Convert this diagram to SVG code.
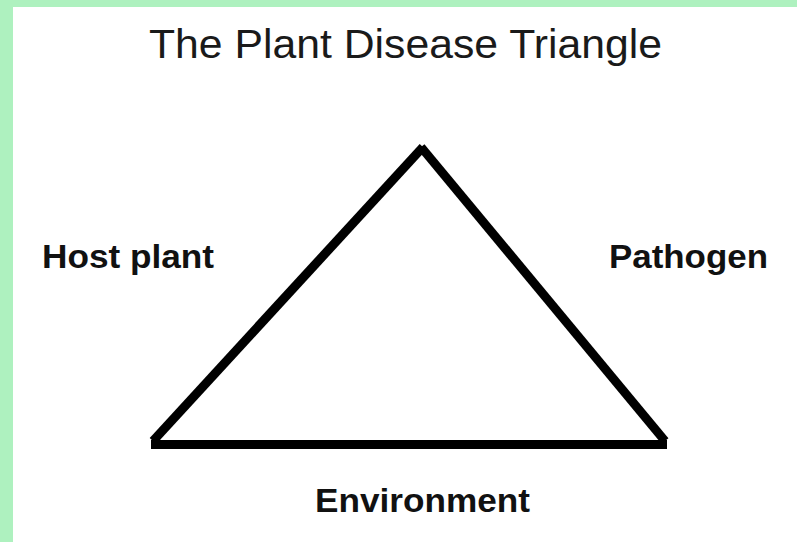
<svg xmlns="http://www.w3.org/2000/svg" width="797" height="542" viewBox="0 0 797 542">
  <style>
    .label { font-family: "Liberation Sans", Arial, sans-serif; font-weight: bold; font-size: 34px; fill: #111; }
    .title { font-family: "Liberation Sans", Arial, sans-serif; font-size: 41px; fill: #1a1a1a; }
    .edge { stroke: #000; stroke-width: 9; fill: none; stroke-linecap: butt; }
  </style>
  <rect x="0" y="0" width="797" height="542" fill="#aef1bf"/>
  <rect x="13" y="7" width="784" height="535" fill="#ffffff"/>
  <g id="title">
    <text class="title" x="149" y="58" textLength="513" lengthAdjust="spacingAndGlyphs">The Plant Disease Triangle</text>
  </g>
  <g id="connectors">
    <line class="edge" x1="151" y1="444.5" x2="667" y2="444.5"/>
    <line class="edge" x1="153" y1="441" x2="423" y2="147"/>
    <line class="edge" x1="421" y1="147" x2="665" y2="441"/>
  </g>
  <g id="host-plant">
    <text class="label" x="42" y="268" textLength="172" lengthAdjust="spacingAndGlyphs">Host plant</text>
  </g>
  <g id="pathogen">
    <text class="label" x="609" y="268" textLength="159" lengthAdjust="spacingAndGlyphs">Pathogen</text>
  </g>
  <g id="environment">
    <text class="label" x="315" y="512" textLength="215" lengthAdjust="spacingAndGlyphs">Environment</text>
  </g>
</svg>
